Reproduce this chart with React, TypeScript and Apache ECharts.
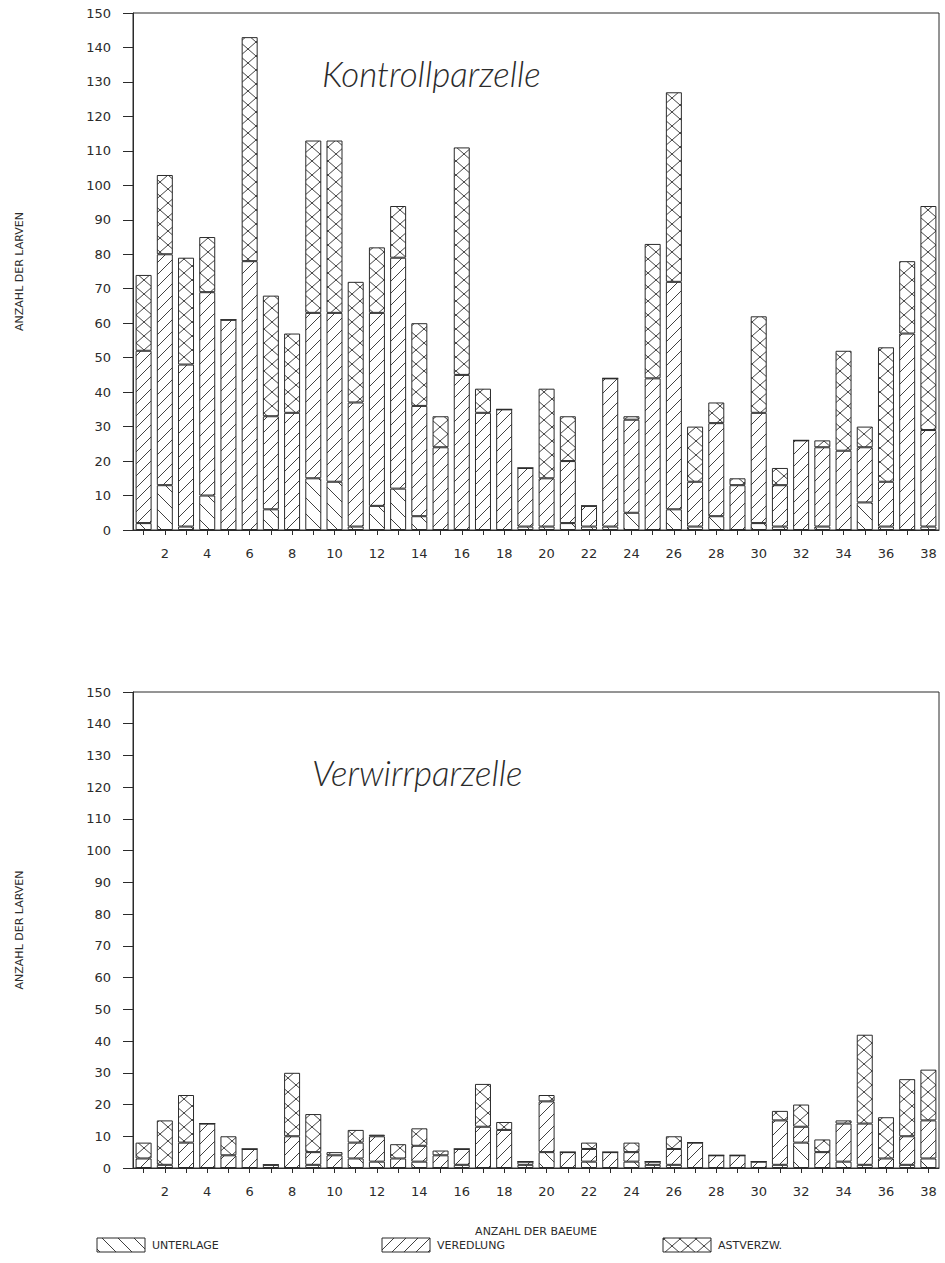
import React, { useEffect, useRef } from "react";
import * as echarts from "echarts";

const categories = ["1","2","3","4","5","6","7","8","9","10","11","12","13","14","15","16","17","18","19","20","21","22","23","24","25","26","27","28","29","30","31","32","33","34","35","36","37","38"];

// Kontrollparzelle
const kontrollUnterlage = [2,13,1,10,0,0,6,0,15,14,1,7,12,4,0,0,0,0,1,1,2,1,1,5,0,6,1,4,0,2,1,0,1,0,8,1,0,1];
const kontrollVeredlung = [50,67,47,59,61,78,27,34,48,49,36,56,67,32,24,45,34,35,17,14,18,6,43,27,44,66,13,27,13,32,12,26,23,23,16,13,57,28];
const kontrollAstverzw = [22,23,31,16,0,65,35,23,50,50,35,19,15,24,9,66,7,0,0,26,13,0,0,1,39,55,16,6,2,28,5,0,2,29,6,39,21,65];

// Verwirrparzelle
const verwirrUnterlage = [0,0,0,0,0,0,0,0,1,0,3,2,0,2,0,1,0,0,1,5,0,2,0,2,1,1,0,0,0,0,1,8,0,2,1,0,1,3];
const verwirrVeredlung = [3,1,8,14,4,6,1,10,4,4,5,8,3,5,4,5,13,12,1,16,5,4,5,3,1,5,8,4,4,2,14,5,5,12,13,3,9,12];
const verwirrAstverzw = [5,14,15,0,6,0,0,20,12,1,4,0.5,4.5,5.5,1.5,0,13.5,2.5,0,2,0,2,0,3,0,4,0,0,0,0,3,7,4,1,28,13,18,16];

const yMin = 0;
const yMax = 150;
const yInterval = 10;

const seriesNames = ["UNTERLAGE", "VEREDLUNG", "ASTVERZW."];
const panelTitles = ["Kontrollparzelle", "Verwirrparzelle"];
const yAxisTitle = "ANZAHL DER LARVEN";
const xAxisTitle = "ANZAHL DER BAEUME";

const INK = "#2b2b2b";
const FONT = "DejaVu Sans";

function tile(w: number, h: number, d: string) {
  const svg = `<svg xmlns="http://www.w3.org/2000/svg" width="${w}" height="${h}"><rect width="${w}" height="${h}" fill="#ffffff"/><path d="${d}" stroke="${INK}" stroke-width="0.9" fill="none"/></svg>`;
  return {
    image: "data:image/svg+xml;charset=utf-8," + encodeURIComponent(svg),
    repeat: "repeat",
    imageWidth: w,
    imageHeight: h,
  } as any;
}

const patU = () => tile(16, 16, "M-1,-1 L17,17 M-1,15 L1,17 M15,-1 L17,1");
const patV = () => tile(12, 12, "M-1,13 L13,-1 M-1,1 L1,-1 M11,13 L13,11");
const patA = () => tile(16, 14, "M0,0 L16,14 M16,0 L0,14");

export default function App() {
  const ref = useRef<HTMLDivElement>(null);
  useEffect(() => {
    if (!ref.current) return;
    const chart = echarts.init(ref.current, null, { renderer: "svg" });

    const grids = [
      { left: 133, right: 6, top: 13, height: 517 },
      { left: 133, right: 6, top: 692, height: 476 },
    ];

    const xAxes = grids.map((_, i) => ({
      type: "category",
      gridIndex: i,
      data: categories,
      axisLine: { lineStyle: { color: INK, width: 1 } },
      axisTick: { show: true, alignWithLabel: true, interval: 0, length: 5, lineStyle: { color: INK } },
      axisLabel: {
        interval: (idx: number) => (idx + 1) % 2 === 0,
        color: INK,
        fontFamily: FONT,
        fontSize: 13,
        margin: 17,
      },
      name: i === 1 ? xAxisTitle : "",
      nameLocation: "middle",
      nameGap: 58,
      nameTextStyle: { color: INK, fontFamily: FONT, fontSize: 11 },
    }));

    const yAxes = grids.map((_, i) => ({
      type: "value",
      gridIndex: i,
      min: yMin,
      max: yMax,
      interval: yInterval,
      splitLine: { show: false },
      axisLine: { show: true, lineStyle: { color: INK, width: 1 } },
      axisTick: { show: true, length: 10, lineStyle: { color: INK } },
      axisLabel: { color: INK, fontFamily: FONT, fontSize: 13, margin: 22 },
      name: yAxisTitle,
      nameLocation: "middle",
      nameRotate: 90,
      nameGap: 108,
      nameTextStyle: { color: INK, fontFamily: FONT, fontSize: 11 },
    }));

    const panels = [
      [kontrollUnterlage, kontrollVeredlung, kontrollAstverzw],
      [verwirrUnterlage, verwirrVeredlung, verwirrAstverzw],
    ];
    const pats = [patU, patV, patA];

    const series: any[] = [];
    panels.forEach((arrs, gi) => {
      arrs.forEach((arr, si) => {
        series.push({
          type: "bar",
          name: seriesNames[si],
          xAxisIndex: gi,
          yAxisIndex: gi,
          stack: "s" + gi,
          barWidth: 16,
          data: arr,
          itemStyle: { color: pats[si](), borderColor: INK, borderWidth: 1 },
          emphasis: { disabled: true },
        });
      });
    });

    const legendX = [97, 382, 663];
    const legendY = 1238;
    const legendGraphics: any[] = [];
    seriesNames.forEach((n, i) => {
      legendGraphics.push({
        type: "rect",
        shape: { x: legendX[i], y: legendY, width: 48, height: 14 },
        style: { fill: pats[i](), stroke: INK, lineWidth: 1 },
      });
      legendGraphics.push({
        type: "text",
        x: legendX[i] + 55,
        y: legendY + 7,
        style: { text: n, fill: INK, font: `11px "${FONT}"`, textVerticalAlign: "middle" },
      });
    });

    const titleFont = `italic 300 35px "Lato"`;

    chart.setOption({
      animation: false,
      backgroundColor: "#ffffff",
      grid: grids.map((g) => ({ ...g, show: true, borderColor: INK, borderWidth: 1, backgroundColor: "transparent" })),
      xAxis: xAxes,
      yAxis: yAxes,
      series,
      graphic: [
        {
          type: "text",
          x: 322,
          y: 73,
          style: { text: panelTitles[0], fill: INK, font: titleFont, textVerticalAlign: "middle" },
        },
        {
          type: "text",
          x: 312,
          y: 772,
          style: { text: panelTitles[1], fill: INK, font: titleFont, textVerticalAlign: "middle" },
        },
        ...legendGraphics,
      ],
    });
    return () => chart.dispose();
  }, []);
  return (
    <div
      ref={ref}
      style={{ position: "absolute", left: 0, top: 0, width: 945, height: 1263, background: "#fff" }}
    />
  );
}
